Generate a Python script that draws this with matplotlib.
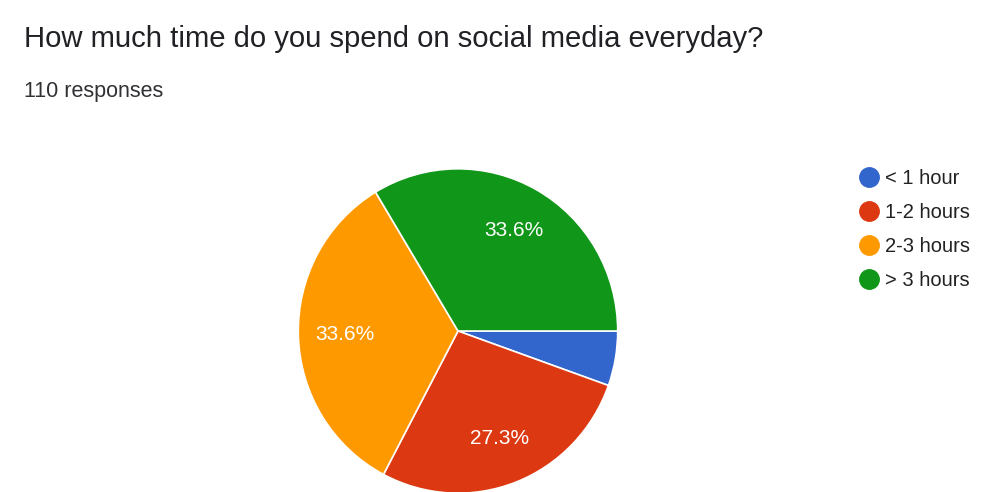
import matplotlib.pyplot as plt
from matplotlib.lines import Line2D

plt.rcParams['font.family'] = ['Liberation Sans', 'DejaVu Sans']

# survey answers (110 responses)
labels = ["< 1 hour", "1-2 hours", "2-3 hours", "> 3 hours"]
counts = [6, 30, 37, 37]
colors = ["#3366cc", "#dc3912", "#ff9900", "#109618"]

W, H = 984, 492
fig = plt.figure(figsize=(W / 100, H / 100), dpi=100)
fig.patch.set_facecolor("white")

fig.text(24 / W, 1 - 47 / H, "How much time do you spend on social media everyday?",
         fontsize=21.1, color="#202124", va="baseline")
fig.text(24 / W, 1 - 97 / H, "110 responses", fontsize=15.5, color="#303134", va="baseline")

# pie axes: centre (458, 331) px, about 321 px wide, 326 px tall
cx, cy, rx, ry = 458, 331, 160.5, 163
ax = fig.add_axes([(cx - rx) / W, (H - cy - ry) / H, 2 * rx / W, 2 * ry / H])

def fmt(p):
    # google hides labels on thin slices
    return f"{p:.1f}%" if p > 10 else ""

wedges, texts, autotexts = ax.pie(
    counts, colors=colors, startangle=0, counterclock=False,
    autopct=fmt, pctdistance=0.71,
    wedgeprops=dict(edgecolor="white", linewidth=1.2),
    textprops=dict(color="white", fontsize=15),
)
ax.set_aspect("auto")
ax.set_xlim(-1.005, 1.005)
ax.set_ylim(-1.005, 1.005)
ax.axis("off")

handles = [Line2D([], [], marker="o", linestyle="none", markersize=14,
                  markerfacecolor=c, markeredgecolor=c) for c in colors]
fig.legend(handles, labels, loc="upper left", bbox_to_anchor=(844 / W, 1 - 159 / H),
           frameon=False, fontsize=14.5, labelspacing=0.74, handletextpad=0.05,
           handlelength=1.5, borderpad=0, labelcolor="#222222")

fig.savefig("out.png", dpi=100)
